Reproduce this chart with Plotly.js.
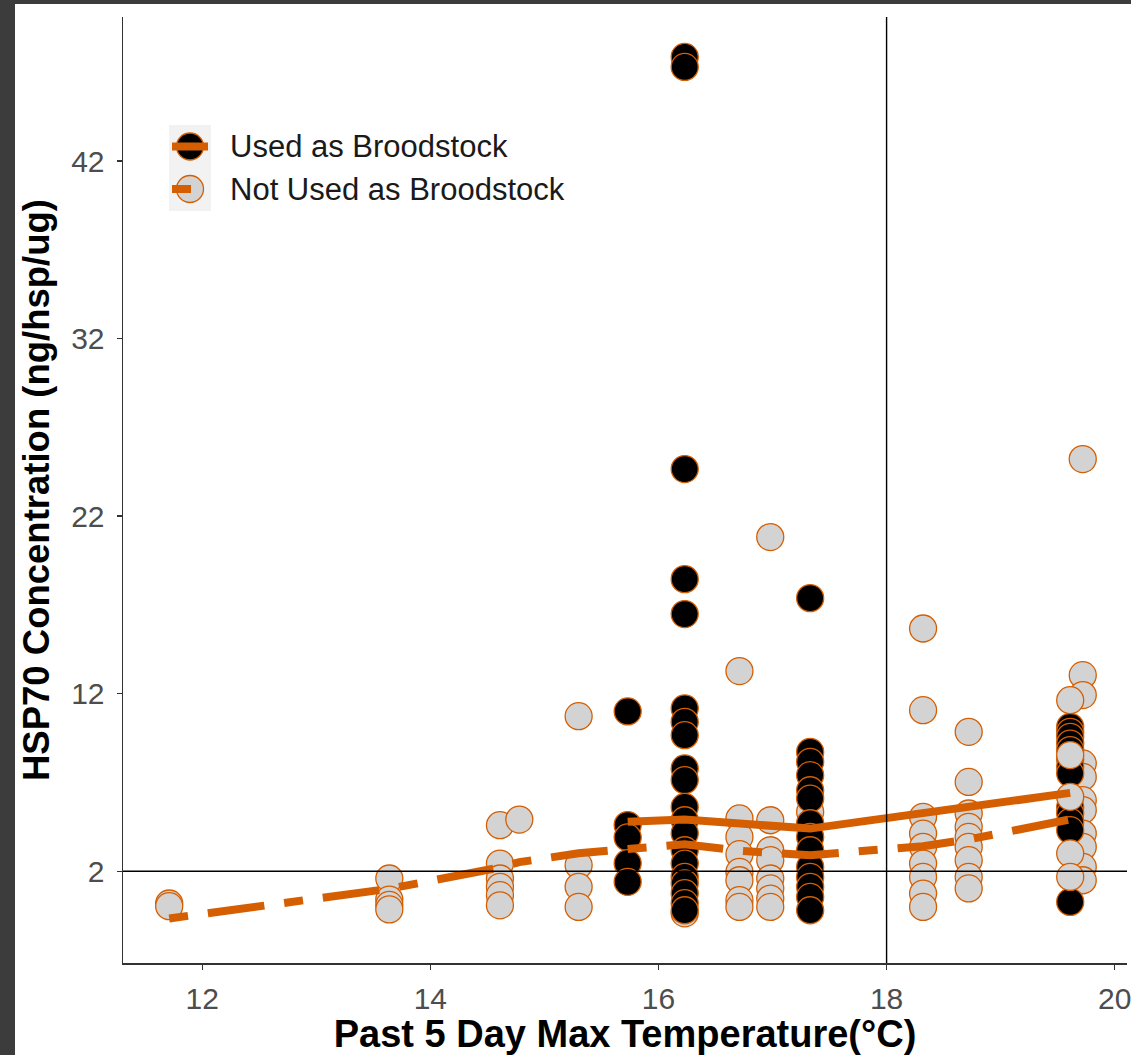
<!DOCTYPE html>
<html>
<head>
<meta charset="utf-8">
<script src="https://cdn.plot.ly/plotly-3.0.1.min.js"></script>
<style>
  html, body { margin: 0; padding: 0; background: #3c3c3c; width: 1131px; height: 1055px; overflow: hidden; }
  #chart { position: absolute; left: 15px; top: 4px; width: 1116px; height: 1051px; background: #ffffff; }
</style>
</head>
<body>
<div id="chart"></div>
<script>
// ---- Data ----
const seriesNames = ["Used as Broodstock", "Not Used as Broodstock"];

// Used as Broodstock (black points)
const usedX = [
  15.73, 15.73, 15.73, 15.73, 15.73,
  16.23, 16.23, 16.23, 16.23, 16.23, 16.23, 16.23, 16.23, 16.23, 16.23, 16.23, 16.23, 16.23, 16.23, 16.23, 16.23, 16.23, 16.23, 16.23, 16.23,
  17.33, 17.33, 17.33, 17.33, 17.33, 17.33, 17.33, 17.33, 17.33, 17.33, 17.33, 17.33, 17.33, 17.33,
  19.61, 19.61, 19.61, 19.61, 19.61, 19.61, 19.61, 19.61, 19.61, 19.61, 19.61, 19.61, 19.61
];
const usedY = [
  11.0, 4.6, 3.9, 2.45, 1.4,
  47.86, 47.3, 24.65, 18.45, 16.48, 11.17, 10.41, 9.66, 7.79, 7.13, 5.62, 4.87, 4.14, 3.18, 2.43, 1.68, 1.32, 0.76, 0.2, -0.2,
  17.38, 8.72, 8.16, 7.41, 6.56, 6.09, 4.7, 3.93, 3.18, 2.24, 1.68, 1.12, 0.55, -0.2,
  10.13, 9.85, 9.57, 9.19, 8.82, 8.3, 7.88, 7.5, 5.6, 5.25, 4.78, 4.31, 0.27
];

// Not Used as Broodstock (grey points), drawn beneath the black points
const notUsedX = [
  11.71, 11.71,
  13.64, 13.64, 13.64, 13.64,
  14.61, 14.61, 14.61, 14.61, 14.61, 14.61,
  14.78,
  15.30, 15.30, 15.30, 15.30,
  16.23,
  16.71, 16.71, 16.71, 16.71, 16.71, 16.71, 16.71, 16.71,
  16.98, 16.98, 16.98, 16.98, 16.98, 16.98, 16.98, 16.98,
  17.33,
  18.32, 18.32, 18.32, 18.32, 18.32, 18.32, 18.32, 18.32, 18.32,
  18.72, 18.72, 18.72, 18.72, 18.72, 18.72, 18.72, 18.72, 18.72,
  19.72, 19.72, 19.72, 19.72, 19.72, 19.72, 19.72, 19.72, 19.72, 19.72, 19.72
];
const notUsedY = [
  0.18, 0.03,
  1.59, 0.4, 0.1, -0.15,
  4.59, 2.43, 1.59, 1.12, 0.65, 0.08,
  4.91,
  10.73, 2.34, 1.12, -0.01,
  -0.37,
  13.27, 4.97, 3.93, 2.96, 1.96, 1.49, 0.37, -0.01,
  20.82, 4.87, 3.18, 2.62, 1.59, 1.03, 0.46, -0.01,
  5.34,
  15.67, 11.07, 5.06, 4.12, 3.37, 2.43, 1.68, 0.74, -0.01,
  9.85, 7.03, 5.25, 4.5, 3.93, 3.37, 2.62, 1.68, 1.03,
  25.21, 13.04, 11.92, 8.07, 7.31, 6.0, 5.44, 4.12, 3.37, 2.24, 1.49
];
// Not Used points lying on top of the black column at 19.6
const notUsedTopX = [19.61, 19.61, 19.61, 19.61, 19.61];
const notUsedTopY = [11.63, 8.54, 6.19, 3.0, 1.68];

// Fitted lines
const usedFitX = [15.73, 16.23, 17.33, 19.61];
const usedFitY = [4.78, 4.91, 4.40, 6.41];
const notUsedFitX = [11.71, 13.64, 14.61, 14.78, 15.30, 16.23, 16.71, 16.98, 17.33, 18.32, 18.72, 19.72];
const notUsedFitY = [-0.66, 1.01, 2.21, 2.51, 3.01, 3.52, 3.15, 3.0, 2.90, 3.41, 3.79, 5.06];

// Reference lines and ticks
const refX = 18;
const refY = 2;
const xTicks = [12, 14, 16, 18, 20];
const yTicks = [2, 12, 22, 32, 42];

// ---- Styling ----
const ORANGE = "#D55E00";
const FONT = "Liberation Sans, Arial, sans-serif";
const MS = 27;

const pointTrace = (x, y, fill, name) => ({
  type: "scatter", mode: "markers", x: x, y: y, name: name, showlegend: false,
  marker: { symbol: "circle", size: MS, color: fill, line: { color: ORANGE, width: 1.3 } },
  hoverinfo: "x+y"
});

const traces = [
  pointTrace(notUsedX, notUsedY, "#d3d3d3", seriesNames[1]),
  pointTrace(usedX, usedY, "#000000", seriesNames[0]),
  pointTrace(notUsedTopX, notUsedTopY, "#d3d3d3", seriesNames[1]),
  { type: "scatter", mode: "lines", x: usedFitX, y: usedFitY, showlegend: false,
    line: { color: ORANGE, width: 8 }, hoverinfo: "skip" },
  { type: "scatter", mode: "lines", x: notUsedFitX, y: notUsedFitY, showlegend: false,
    line: { color: ORANGE, width: 8, dash: "19px,20px,57px,20px" }, hoverinfo: "skip" }
];

// page-pixel -> paper helpers (layout only)
const DIVX = 15, DIVY = 4, DW = 1116, DH = 1051;
const M = { l: 108, r: 4, t: 13, b: 92 };
const PW = DW - M.l - M.r, PH = DH - M.t - M.b;
const px = X => (X - DIVX - M.l) / PW;
const py = Y => 1 - (Y - DIVY - M.t) / PH;

const legRows = [146.5, 189];
const legFills = ["#000000", "#d3d3d3"];
const keyCx = 190;

const shapes = [
  { type: "line", xref: "paper", x0: 0, x1: 1, yref: "y", y0: refY, y1: refY,
    line: { color: "#000000", width: 1.4 } },
  { type: "line", xref: "x", x0: refX, x1: refX, yref: "paper", y0: 0, y1: 1,
    line: { color: "#000000", width: 1.4 } },
  // legend key background
  { type: "rect", xref: "paper", yref: "paper", x0: px(169), x1: px(211), y0: py(211), y1: py(125),
    fillcolor: "#f2f2f2", line: { width: 0 } }
];
legRows.forEach((cy, i) => {
  shapes.push({ type: "circle", xref: "paper", yref: "paper", xsizemode: "pixel", ysizemode: "pixel",
    xanchor: px(keyCx), yanchor: py(cy), x0: -13.5, x1: 13.5, y0: -13.5, y1: 13.5,
    fillcolor: legFills[i], line: { color: ORANGE, width: 1.3 } });
  shapes.push({ type: "line", xref: "paper", yref: "paper",
    x0: px(172), x1: px(i === 0 ? 208 : 191), y0: py(cy), y1: py(cy),
    line: { color: ORANGE, width: 8 } });
});

const annotations = seriesNames.map((t, i) => ({
  text: t, xref: "paper", yref: "paper", x: px(228), y: py(legRows[i]),
  xanchor: "left", yanchor: "middle", showarrow: false,
  font: { family: FONT, size: 31, color: "#1a1a1a" }
}));

const axisCommon = {
  showgrid: false, zeroline: false, showline: true, linecolor: "#333333", linewidth: 1.5,
  ticks: "outside", ticklen: 5, tickwidth: 1.3, tickcolor: "#333333",
  tickfont: { family: FONT, size: 30, color: "#4d4d4d" },
  ticklabeloverflow: "allow"
};

const layout = {
  width: DW, height: DH,
  margin: M,
  paper_bgcolor: "#ffffff", plot_bgcolor: "#ffffff",
  showlegend: false,
  xaxis: Object.assign({}, axisCommon, {
    range: [11.305, 20.108], tickmode: "array", tickvals: xTicks, ticktext: xTicks.map(String),
    ticklabelstandoff: 3,
    title: { text: "Past 5 Day Max Temperature(°C)", font: { family: FONT, size: 38, color: "#000000", weight: "bold" }, standoff: 0 }
  }),
  yaxis: Object.assign({}, axisCommon, {
    range: [-3.17, 50.11], tickmode: "array", tickvals: yTicks, ticktext: yTicks.map(String),
    ticklabelstandoff: 6,
    title: { text: "HSP70 Concentration (ng/hsp/ug)", font: { family: FONT, size: 36.5, color: "#000000", weight: "bold" }, standoff: 10 }
  }),
  shapes: shapes,
  annotations: annotations
};

Plotly.newPlot("chart", traces, layout, { displayModeBar: false, staticPlot: true });
</script>
</body>
</html>
